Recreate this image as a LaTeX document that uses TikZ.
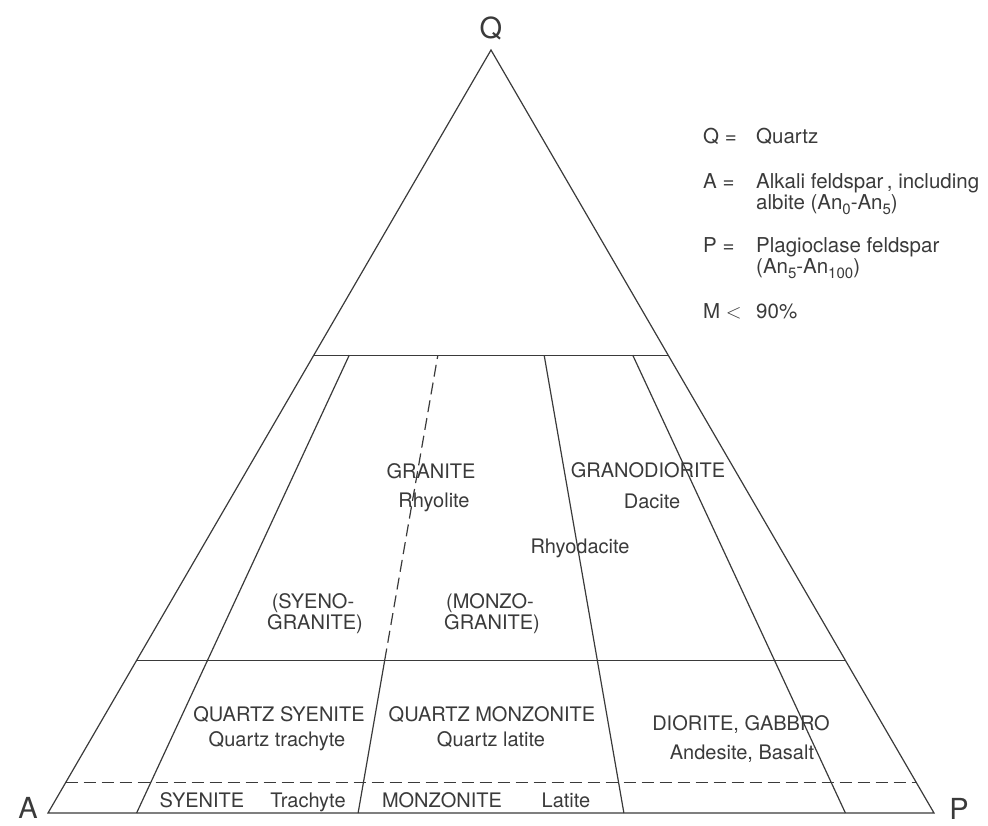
\documentclass[tikz,border=0pt]{standalone}
\usepackage{fontspec}
\setmainfont{TeX Gyre Heros}
\usetikzlibrary{calc}
\definecolor{ink}{RGB}{58,58,58}
\newcommand{\lowidx}[1]{\raisebox{-0.45ex}{\fontsize{15}{15}\selectfont#1}}
\begin{document}
\begin{tikzpicture}[
x=1pt,
y=1pt,
edge/.style={%
draw=ink,
line width=1.2pt,
},
dsh/.style={%
draw=ink,
line width=1.2pt,
dash pattern=on 12pt off 6pt,
},
rock/.style={%
text=ink,
font=\fontsize{20}{20}\selectfont,
anchor=base,
inner sep=0pt,
},
apex/.style={%
text=ink,
font=\fontsize{29}{29}\selectfont,
inner sep=0pt,
},
key/.style={%
text=ink,
font=\fontsize{20.5}{20.5}\selectfont,
anchor=base west,
inner sep=0pt,
}
]
\useasboundingbox(0,0)rectangle(988,825);
%% Triangle
\coordinate(A)at(48,12);
\coordinate(P)at(934,12);
\coordinate(Q)at(491,775);
\draw[edge](A)--(P)--(Q)--cycle;
\node[apex]at(491,797)(qlbl){Q};
\node[apex]at(28,17)(albl){A};
\node[apex]at(959,16)(plbl){P};
%% Horizontal lines
\foreach \q/\n in {0.6/hi,0.2/lo,0.04/ba}{%
\coordinate(l_\n)at($(A)!\q!(Q)$);
\coordinate(r_\n)at($(P)!\q!(Q)$);
}
\draw[edge](l_hi)--(r_hi);
\draw[edge](l_lo)--(r_lo);
\draw[dsh](l_ba)--(r_ba);
%% Field boundaries
\foreach \f/\n in {0.10/a,0.35/b,0.65/c,0.90/d}{%
\coordinate(b_\n)at($(A)!\f!(P)$);
\coordinate(m_\n)at($(b_\n)!0.2!(Q)$);
\coordinate(t_\n)at($(b_\n)!0.6!(Q)$);
}
\draw[edge](b_a)--(t_a);
\draw[edge](b_b)--(m_b);
\draw[dsh](m_b)--(t_b);
\draw[edge](b_c)--(t_c);
\draw[edge](b_d)--(t_d);
%% Granitoids
\node[rock]at(431,346)(granite){GRANITE};
\node[rock]at(434,317)(rhyolite){Rhyolite};
\node[rock]at(648,347)(grano){GRANODIORITE};
\node[rock]at(652,316)(dacite){Dacite};
\node[rock]at(580,271)(rhyoda){Rhyodacite};
\node[rock]at(313,216)(sye_a){(SYENO-};
\node[rock]at(315,195)(sye_b){GRANITE)};
\node[rock]at(490,216)(mon_a){(MONZO-};
\node[rock]at(492,195)(mon_b){GRANITE)};
%% Quartz-poor rocks
\node[rock]at(279,103)(qsye){QUARTZ SYENITE};
\node[rock]at(277,79)(qtra){Quartz trachyte};
\node[rock]at(492,103)(qmon){QUARTZ MONZONITE};
\node[rock]at(491,79)(qlat){Quartz latite};
\node[rock]at(741,95)(dio){DIORITE, GABBRO};
\node[rock]at(742,66)(ande){Andesite, Basalt};
\node[rock]at(202,18)(sye){SYENITE};
\node[rock]at(308,18)(tra){Trachyte};
\node[rock]at(442,18)(mon){MONZONITE};
\node[rock]at(566,18)(lat){Latite};
%% Key
\node[key]at(703,681)(k_q){Q =};
\node[key]at(756,681)(k_qt){Quartz};
\node[key]at(703,636)(k_a){A =};
\node[key]at(756,636)(k_at){Alkali feldspar\,, including};
\node[key]at(756,615)(k_ab){albite (An\lowidx{0}-An\lowidx{5})};
\node[key]at(703,572)(k_p){P =};
\node[key]at(756,572)(k_pt){Plagioclase feldspar};
\node[key]at(756,551)(k_pb){(An\lowidx{5}-An\lowidx{100})};
\node[key]at(703,506)(k_m){M $<$};
\node[key]at(756,506)(k_mt){90\%};
\end{tikzpicture}
\end{document}
